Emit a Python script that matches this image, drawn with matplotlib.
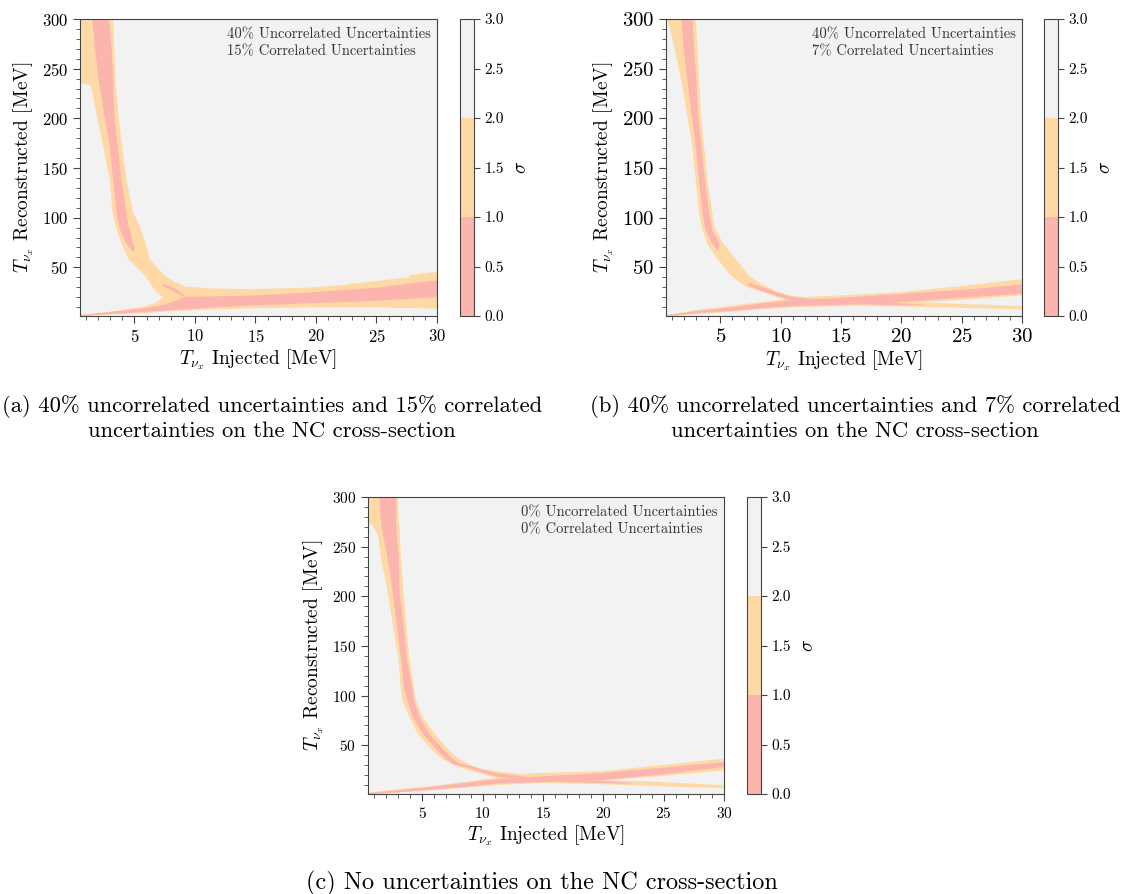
import numpy as np
import matplotlib
matplotlib.use("Agg")
import matplotlib.pyplot as plt
from matplotlib.cm import ScalarMappable
from matplotlib.colors import BoundaryNorm, ListedColormap
from matplotlib.ticker import MultipleLocator

plt.rcParams["font.family"] = ["cmr10", "DejaVu Serif"]
plt.rcParams["mathtext.fontset"] = "cm"
plt.rcParams["axes.formatter.use_mathtext"] = True
plt.rcParams["axes.unicode_minus"] = False

PINK, ORANGE, GREY = "#fbb4ae", "#fed9a6", "#f2f2f2"
EDGE = "#444444"

# ---- sigma bands (T_inj in MeV, T_rec in MeV) ----
# (a) 40% uncorrelated, 15% correlated
a_steep_y = [300, 272, 240, 236, 234, 222, 205, 172, 138, 105, 92, 74, 59, 49, 42, 35, 32, 25, 20]
a_steep_2s_lo = [0.5, 0.5, 0.5, 0.5, 1.35, 1.55, 1.83, 2.38, 2.93, 3.15, 3.4, 3.9, 4.45, 5.27, 5.83, 6.24, 6.4, 6.79, 7.34]
a_steep_2s_hi = [3.2, 3.29, 3.4, 3.41, 3.42, 3.5, 3.62, 3.95, 4.31, 4.86, 5.41, 5.9, 6.24, 6.93, 7.48, 8.4, 9.0, 9.0, 9.0]
a_steep_1s_y = [300, 272, 238, 205, 172, 138, 105, 92, 88, 76, 70, 66]
a_steep_1s_lo = [1.47, 1.69, 2.02, 2.46, 2.93, 3.2, 3.48, 3.7, 3.8, 4.2, 4.6, 4.85]
a_steep_1s_hi = [2.85, 3.07, 3.2, 3.29, 3.56, 3.89, 4.31, 4.45, 4.6, 4.8, 5.0, 4.9]
a_flat_x = [0.5, 1.69, 3.07, 4.45, 5.83, 6.65, 7.34, 8.0, 8.58, 11.33, 14.09, 16.84, 19.6, 22.35, 25.1, 27.6, 27.7, 29.5, 30]
a_flat_2s_lo = [1.5, 2.3, 3.2, 3.8, 4.4, 5.2, 5.9, 6.3, 6.7, 8.0, 9.1, 9.6, 10.1, 10.1, 10.1, 9.5, 9.5, 9.1, 9.1]
a_flat_2s_hi = [2.4, 4.0, 6.0, 8.4, 11.5, 14.4, 20.2, 30.0, 31.9, 29.2, 28.6, 29.2, 30.2, 33.0, 37.0, 40.3, 42.7, 45.4, 45.4]
a_flat_1s_x = [0.5, 3.07, 5.83, 7.5, 8.58, 9.13, 11.33, 14.09, 19.6, 25.1, 29.5, 30]
a_flat_1s_lo = [1.6, 3.4, 5.7, 7.0, 7.7, 8.1, 10.0, 11.8, 14.4, 16.8, 20.2, 20.2]
a_flat_1s_hi = [2.4, 5.7, 9.4, 13.0, 17.8, 20.8, 21.2, 21.8, 25.2, 30.2, 37.0, 37.0]
a_streak_x = [7.3, 8.0, 8.6, 9.13]
a_streak_lo = [31.5, 27.5, 23.5, 20.5]
a_streak_hi = [34.0, 31.0, 27.0, 22.0]

# (b) 40% uncorrelated, 7% correlated
b_steep_y = [300, 272, 238, 205, 172, 138, 105, 92, 74, 59, 42, 32, 29]
b_steep_2s_lo = [0.6, 1.14, 1.75, 2.19, 2.65, 2.93, 3.2, 3.4, 3.89, 4.72, 5.83, 6.93, 7.5]
b_steep_2s_hi = [2.93, 3.07, 3.2, 3.35, 3.62, 3.89, 4.31, 4.45, 5.2, 6.24, 7.34, 8.6, 9.0]
b_steep_1s_y = [300, 272, 238, 205, 172, 138, 105, 88, 74, 68]
b_steep_1s_lo = [1.75, 1.91, 2.24, 2.57, 2.93, 3.2, 3.48, 3.75, 4.31, 4.7]
b_steep_1s_hi = [2.65, 2.79, 2.98, 3.12, 3.4, 3.68, 4.03, 4.3, 4.9, 4.8]
b_tail_x = [7.5, 8.58, 9.68, 10.8, 12.7, 15.5, 19.6, 23.7, 29.5, 30]
b_tail_2s_lo = [29.2, 25.2, 20.2, 16.5, 13.8, 12.4, 11.1, 10.1, 8.4, 8.3]
b_tail_2s_hi = [37.0, 32.6, 26.0, 22.0, 19.5, 17.8, 16.5, 14.1, 11.8, 11.6]
b_tail_1s_x = [7.3, 8.58, 9.68, 10.8, 12.7, 15.5, 19.6, 22]
b_tail_1s_lo = [32.0, 26.0, 21.5, 17.5, 15.0, 13.5, 12.5, 12.3]
b_tail_1s_hi = [35.0, 30.0, 25.0, 21.0, 18.0, 16.5, 14.5, 12.7]
b_rise_x = [0.5, 3.07, 5.83, 8.58, 11.3, 14.1, 19.6, 25.1, 29.5, 30]
b_rise_2s_lo = [1.0, 3.4, 5.7, 8.4, 10.4, 11.1, 13.4, 17.8, 21.8, 22.0]
b_rise_2s_hi = [2.4, 7.7, 11.8, 15.8, 20.2, 21.8, 25.2, 31.9, 38.0, 38.5]
b_rise_1s_lo = [1.2, 4.4, 6.7, 9.7, 11.8, 12.4, 15.1, 20.2, 23.5, 23.8]
b_rise_1s_hi = [2.2, 6.7, 10.1, 14.4, 17.8, 19.2, 23.5, 27.9, 32.6, 33.0]

# (c) no uncertainties
c_steep_y = [300, 275, 272, 262, 238, 205, 172, 138, 105, 95, 79, 62, 45, 37, 31]
c_steep_2s_lo = [0.5, 0.5, 0.83, 1.28, 1.55, 2.1, 2.52, 2.98, 3.2, 3.34, 3.89, 4.58, 5.83, 6.6, 7.5]
c_steep_2s_hi = [2.93, 3.0, 3.07, 3.1, 3.2, 3.4, 3.62, 3.89, 4.3, 4.45, 5.0, 5.97, 7.2, 8.0, 8.9]
c_steep_1s_y = [300, 272, 238, 205, 172, 138, 105, 95, 79, 62, 45, 36, 32]
c_steep_1s_lo = [1.39, 1.55, 2.1, 2.52, 2.85, 3.2, 3.48, 3.75, 4.17, 5.0, 6.24, 7.0, 7.5]
c_steep_1s_hi = [2.79, 2.79, 3.02, 3.07, 3.4, 3.68, 4.17, 4.3, 4.72, 5.55, 6.79, 7.6, 8.0]
c_tail_x = [7.5, 8.58, 9.96, 11.3, 14.1, 19.6, 23.7, 29.5, 30]
c_tail_2s_lo = [30.9, 26.0, 21.5, 16.4, 13.1, 11.4, 9.7, 7.4, 7.3]
c_tail_2s_hi = [35.0, 32.0, 26.5, 24.2, 19.8, 15.4, 14.1, 10.7, 10.5]
c_tail_1s_x = [7.5, 8.58, 9.96, 11.3, 14.1, 19.6, 22.3]
c_tail_1s_lo = [31.5, 28.5, 23.0, 18.5, 15.0, 12.5, 12.0]
c_tail_1s_hi = [34.0, 31.0, 26.0, 22.0, 18.0, 14.5, 13.0]
c_rise_x = [0.5, 3.07, 5.83, 8.58, 11.3, 14.1, 19.6, 25.1, 29.5, 30]
c_rise_2s_lo = [1.0, 3.0, 5.4, 8.0, 10.7, 12.1, 14.8, 19.8, 24.8, 25.2]
c_rise_2s_hi = [3.0, 6.4, 9.7, 13.8, 18.1, 22.5, 24.2, 30.9, 36.6, 37.0]
c_rise_1s_lo = [1.3, 3.3, 6.0, 8.7, 12.1, 13.1, 15.4, 21.5, 28.2, 28.5]
c_rise_1s_hi = [2.5, 5.4, 9.0, 12.8, 16.4, 18.8, 22.2, 28.2, 33.2, 33.6]

notes = [
    "40% Uncorrelated Uncertainties\n15% Correlated Uncertainties",
    "40% Uncorrelated Uncertainties\n7% Correlated Uncertainties",
    "0% Uncorrelated Uncertainties\n0% Correlated Uncertainties",
]
captions = [
    "(a) 40% uncorrelated uncertainties and 15% correlated\nuncertainties on the NC cross-section",
    "(b) 40% uncorrelated uncertainties and 7% correlated\nuncertainties on the NC cross-section",
    "(c) No uncertainties on the NC cross-section",
]
sigma_levels = [0, 1, 2, 3]
sigma_ticks = [0.0, 0.5, 1.0, 1.5, 2.0, 2.5, 3.0]

fig = plt.figure(figsize=(11.24, 8.94), dpi=100)
W, H = 1124.0, 894.0


def add_axes(left, top, right, bottom):
    return fig.add_axes([left / W, 1 - bottom / H, (right - left) / W, (bottom - top) / H])


def panel(ax, cax, vert2, vert1, horiz2, horiz1, note, tick_size):
    ax.set_facecolor(GREY)
    for y, lo, hi in vert2:
        ax.fill_betweenx(y, lo, hi, color=ORANGE, lw=0, zorder=1)
    for x, lo, hi in horiz2:
        ax.fill_between(x, lo, hi, color=ORANGE, lw=0, zorder=1)
    for y, lo, hi in vert1:
        ax.fill_betweenx(y, lo, hi, color=PINK, lw=0, zorder=2)
    for x, lo, hi in horiz1:
        ax.fill_between(x, lo, hi, color=PINK, lw=0, zorder=2)

    ax.set_xlim(0.5, 30)
    ax.set_ylim(1, 300)
    ax.set_xticks([5, 10, 15, 20, 25, 30])
    ax.set_yticks([50, 100, 150, 200, 250, 300])
    ax.xaxis.set_minor_locator(MultipleLocator(1))
    ax.yaxis.set_minor_locator(MultipleLocator(10))
    ax.tick_params(which="both", direction="out", color=EDGE, labelsize=tick_size,
                   top=False, right=False)
    ax.tick_params(which="major", length=5)
    ax.tick_params(which="minor", length=3)
    for s in ax.spines.values():
        s.set_color(EDGE)
    ax.set_xlabel(r"$T_{\nu_x}$ Injected [MeV]", fontsize=14, labelpad=2)
    ax.set_ylabel(r"$T_{\nu_x}$ Reconstructed [MeV]", fontsize=14, labelpad=4)
    ax.text(0.982, 0.972, note, transform=ax.transAxes, ha="right", va="top",
            multialignment="left", fontsize=10.5, color="#333333", linespacing=1.35,
            zorder=5)

    cmap = ListedColormap([PINK, ORANGE, GREY])
    norm = BoundaryNorm(sigma_levels, cmap.N)
    cb = fig.colorbar(ScalarMappable(norm=norm, cmap=cmap), cax=cax, ticks=sigma_ticks)
    cb.ax.yaxis.set_major_formatter("{x:.1f}")
    cb.ax.tick_params(labelsize=11, color=EDGE, length=4)
    cb.outline.set_edgecolor(EDGE)
    cb.set_label(r"$\sigma$", fontsize=14, labelpad=6)


ax_a = add_axes(80, 19, 437, 316)
cax_a = add_axes(460, 19, 474, 316)
panel(ax_a, cax_a,
      [(a_steep_y, a_steep_2s_lo, a_steep_2s_hi)],
      [(a_steep_1s_y, a_steep_1s_lo, a_steep_1s_hi)],
      [(a_flat_x, a_flat_2s_lo, a_flat_2s_hi)],
      [(a_flat_1s_x, a_flat_1s_lo, a_flat_1s_hi), (a_streak_x, a_streak_lo, a_streak_hi)],
      notes[0], 12)

ax_b = add_axes(666, 19, 1022, 316)
cax_b = add_axes(1044, 19, 1058, 316)
panel(ax_b, cax_b,
      [(b_steep_y, b_steep_2s_lo, b_steep_2s_hi)],
      [(b_steep_1s_y, b_steep_1s_lo, b_steep_1s_hi)],
      [(b_tail_x, b_tail_2s_lo, b_tail_2s_hi), (b_rise_x, b_rise_2s_lo, b_rise_2s_hi)],
      [(b_tail_1s_x, b_tail_1s_lo, b_tail_1s_hi), (b_rise_x, b_rise_1s_lo, b_rise_1s_hi)],
      notes[1], 15)

ax_c = add_axes(368, 497, 724, 794)
cax_c = add_axes(747, 497, 761, 794)
panel(ax_c, cax_c,
      [(c_steep_y, c_steep_2s_lo, c_steep_2s_hi)],
      [(c_steep_1s_y, c_steep_1s_lo, c_steep_1s_hi)],
      [(c_tail_x, c_tail_2s_lo, c_tail_2s_hi), (c_rise_x, c_rise_2s_lo, c_rise_2s_hi)],
      [(c_tail_1s_x, c_tail_1s_lo, c_tail_1s_hi), (c_rise_x, c_rise_1s_lo, c_rise_1s_hi)],
      notes[2], 11)

fig.text(272 / W, 1 - 418 / H, captions[0], ha="center", va="center", fontsize=16.3, linespacing=1.25)
fig.text(855 / W, 1 - 418 / H, captions[1], ha="center", va="center", fontsize=16.3, linespacing=1.25)
fig.text(542 / W, 1 - 883 / H, captions[2], ha="center", va="center", fontsize=17.5)

fig.savefig("out.png", dpi=100)
